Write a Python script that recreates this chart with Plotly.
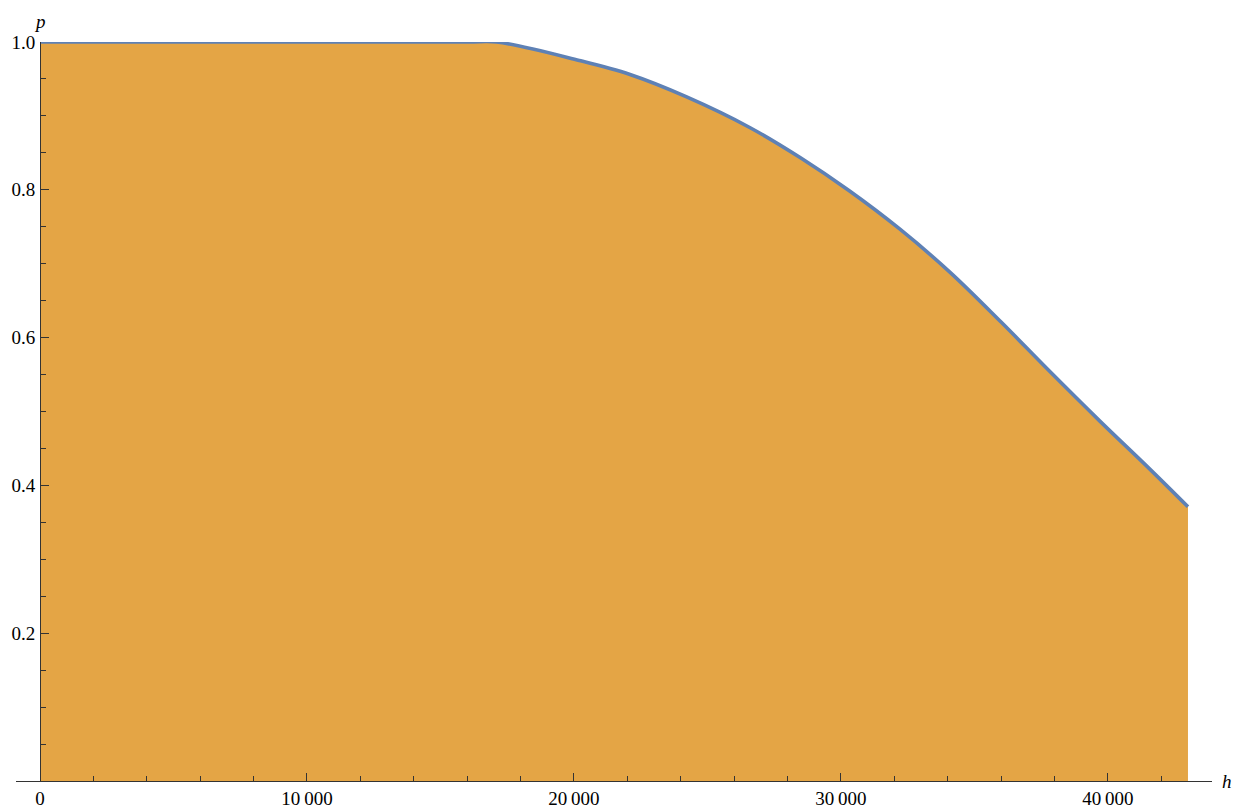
import plotly.graph_objects as go

# Probability p as a function of h
h_vals = [0, 16000, 17100, 20200, 22100, 24200, 26600, 28500, 30300, 32200,
          34100, 36000, 37800, 39700, 41600, 43000]
p_vals = [1.0, 1.0, 1.0, 0.975, 0.956, 0.926, 0.884, 0.843, 0.799, 0.747,
          0.688, 0.621, 0.555, 0.487, 0.421, 0.371]

x_tickvals = [0, 10000, 20000, 30000, 40000]
x_ticktext = ["0", "10\u2009000", "20\u2009000", "30\u2009000", "40\u2009000"]
y_tickvals = [0.2, 0.4, 0.6, 0.8, 1.0]
y_ticktext = ["0.2", "0.4", "0.6", "0.8", "1.0"]

FONT = "Liberation Serif"
X_MIN, X_MAX = -900, 43900
Y_MIN, Y_MAX = 0.0, 1.0

fig = go.Figure()
fig.add_trace(go.Scatter(
    x=h_vals, y=p_vals,
    mode="lines",
    line=dict(color="#5E81B5", width=3.6, shape="spline", smoothing=1.0),
    fill="tozeroy",
    fillcolor="#E4A545",
    hoverinfo="skip",
    showlegend=False,
))

# y axis sits at h = 0 inside the x range
y_pos = (0 - X_MIN) / (X_MAX - X_MIN)

fig.update_layout(
    width=1250, height=808,
    margin=dict(l=16, r=38, t=42, b=27, autoexpand=False),
    paper_bgcolor="white",
    plot_bgcolor="white",
    font=dict(family=FONT, size=19, color="black"),
    xaxis=dict(
        range=[X_MIN, X_MAX],
        automargin=False,
        showgrid=False, zeroline=False,
        showline=True, linecolor="#333333", linewidth=1.2,
        ticks="inside", ticklen=8, tickwidth=1, tickcolor="#333333",
        tickvals=x_tickvals, ticktext=x_ticktext,
        minor=dict(ticks="inside", ticklen=5, tickwidth=1, tickcolor="#333333",
                   dtick=2000, tick0=0, showgrid=False),
        tickfont=dict(family=FONT, size=19),
        fixedrange=True,
    ),
    yaxis=dict(
        range=[Y_MIN, Y_MAX],
        automargin=False,
        anchor="free", position=y_pos,
        showgrid=False, zeroline=False,
        showline=True, linecolor="#333333", linewidth=1.2,
        ticks="inside", ticklen=8, tickwidth=1, tickcolor="#333333",
        ticklabelstandoff=1,
        tickvals=y_tickvals, ticktext=y_ticktext,
        minor=dict(ticks="inside", ticklen=5, tickwidth=1, tickcolor="#333333",
                   dtick=0.05, tick0=0, showgrid=False),
        tickfont=dict(family=FONT, size=19),
        fixedrange=True,
    ),
    annotations=[
        dict(text="<i>p</i>", x=0, y=1.0, xref="x", yref="y",
             xanchor="center", yanchor="bottom", yshift=8,
             showarrow=False, font=dict(family=FONT, size=19)),
        dict(text="<i>h</i>", x=X_MAX, y=0, xref="x", yref="y",
             xanchor="left", yanchor="middle", xshift=8,
             showarrow=False, font=dict(family=FONT, size=19)),
    ],
)

fig.write_html("out.html")
